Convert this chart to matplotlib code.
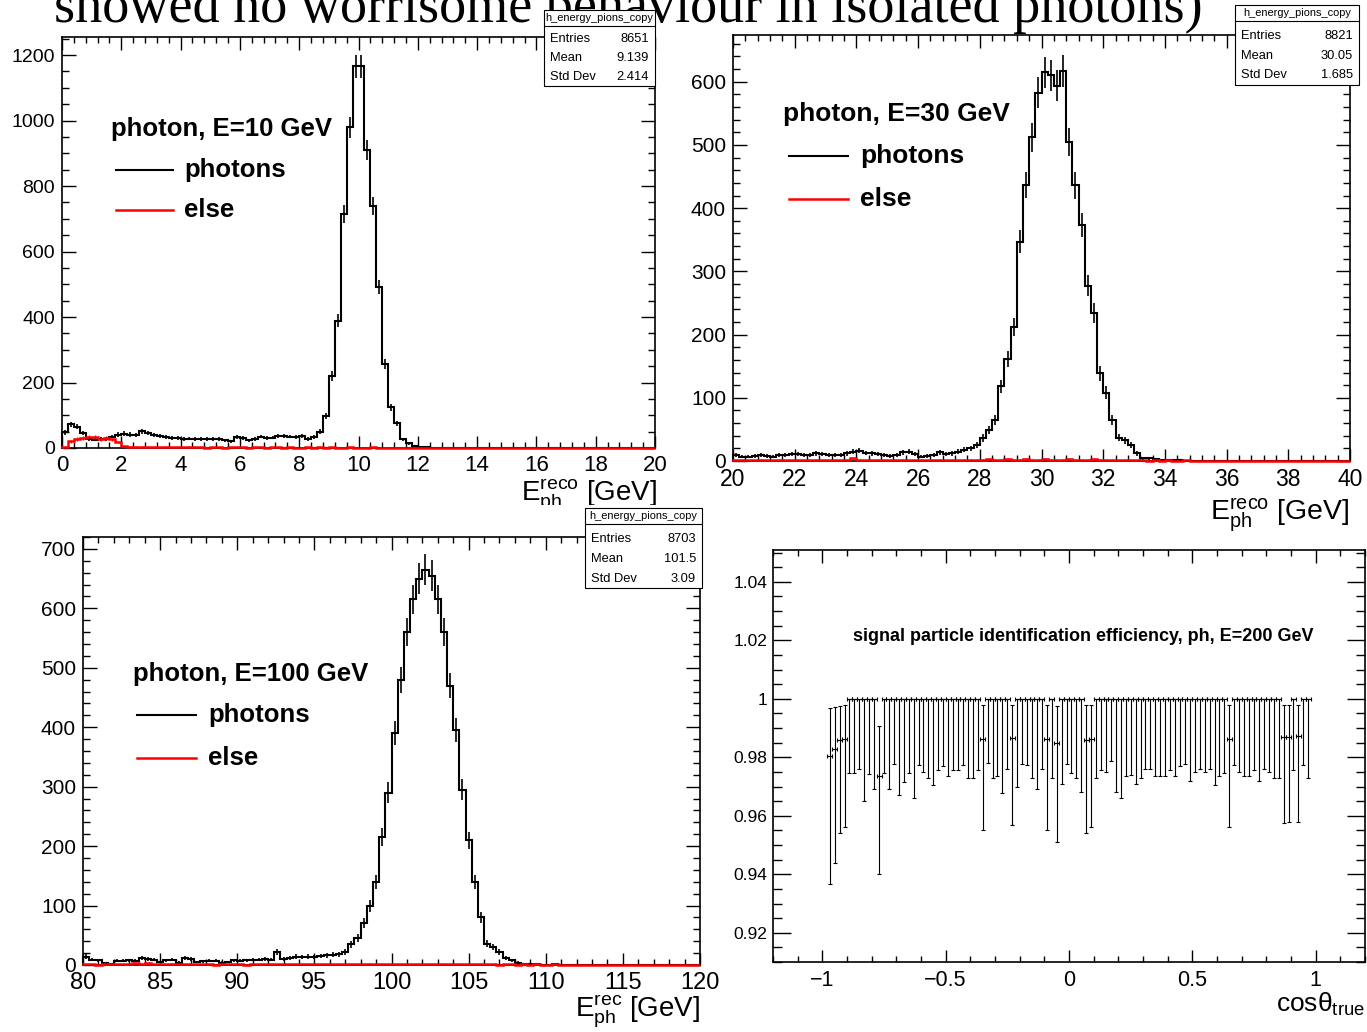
import numpy as np
import matplotlib
matplotlib.use("Agg")
import matplotlib.pyplot as plt
from matplotlib.lines import Line2D
from matplotlib.patches import Rectangle
from matplotlib.ticker import MultipleLocator, FuncFormatter

W, H = 1367, 1032

plt.rcParams['font.family'] = ['Liberation Sans', 'DejaVu Sans']
plt.rcParams['mathtext.fontset'] = 'custom'
plt.rcParams['mathtext.rm'] = 'Liberation Sans'
plt.rcParams['mathtext.it'] = 'Liberation Sans:italic'
plt.rcParams['mathtext.bf'] = 'Liberation Sans:bold'

# ---------------- data ----------------
title = "showed no worrisome behaviour in isolated photons)"
hist_name = "h_energy_pions_copy"
stat_rows = ["Entries", "Mean", "Std Dev"]

# E = 10 GeV, 100 bins in [0, 20]
e10_range = [0, 20, 100]
e10_photons = [48, 72, 65, 45, 27, 25, 28, 27, 35, 41,
               44, 41, 40, 51, 45, 40, 37, 33, 31, 30,
               28, 29, 28, 28, 27, 28, 27, 23, 20, 33,
               30, 23, 28, 35, 30, 32, 37, 37, 35, 33,
               37, 27, 33, 50, 98, 220, 388, 714, 979, 1165,
               1165, 910, 740, 492, 256, 124, 75, 26, 14, 6,
               3, 2, 1, 1, 0, 0, 0, 0, 0, 0,
               0, 0, 0, 0, 0, 0, 0, 0, 0, 0,
               0, 0, 0, 0, 0, 0, 0, 0, 0, 0,
               0, 0, 0, 0, 0, 0, 0, 0, 0, 0]
e10_else = [3, 20, 27, 30, 35, 33, 28, 31, 26, 18,
            5, 3, 3, 4, 3, 2, 2, 3, 2, 2,
            2, 3, 2, 2, 1, 2, 2, 1, 2, 3,
            2, 1, 2, 2, 1, 2, 2, 1, 2, 1,
            1, 2, 1, 2, 1, 2, 1, 1, 2, 1,
            1, 1, 2, 1, 1, 1, 0, 1, 0, 1,
            0, 1, 0, 0, 0, 0, 0, 0, 0, 0,
            0, 0, 0, 0, 0, 0, 0, 0, 0, 0,
            0, 0, 0, 0, 0, 0, 0, 0, 0, 0,
            0, 0, 0, 0, 0, 0, 0, 0, 0, 0]
e10_stats = ["8651", "9.139", "2.414"]

# E = 30 GeV, 100 bins in [20, 40]
e30_range = [20, 40, 100]
e30_photons = [10, 7, 7, 8, 9, 8, 7, 9, 10, 11,
               11, 10, 9, 12, 11, 10, 10, 9, 12, 15,
               16, 13, 12, 11, 9, 8, 9, 14, 15, 11,
               7, 8, 10, 14, 11, 12, 15, 18, 20, 25,
               36, 49, 65, 118, 162, 212, 347, 437, 512, 583,
               615, 610, 594, 617, 505, 436, 373, 277, 234, 139,
               108, 65, 37, 33, 25, 12, 4, 4, 3, 2,
               1, 1, 1, 0, 0, 0, 0, 0, 0, 0,
               0, 0, 0, 0, 0, 0, 0, 0, 0, 0,
               0, 0, 0, 0, 0, 0, 0, 0, 0, 0]
e30_else = [1, 2, 1, 1, 2, 1, 1, 2, 1, 1,
            2, 1, 1, 2, 1, 1, 2, 1, 2, 4,
            2, 1, 1, 2, 1, 1, 1, 2, 1, 1,
            2, 1, 1, 2, 1, 2, 1, 2, 2, 2,
            2, 3, 2, 2, 3, 2, 2, 3, 2, 2,
            3, 2, 2, 2, 3, 2, 2, 2, 3, 2,
            2, 2, 1, 2, 1, 1, 1, 0, 1, 0,
            1, 0, 0, 1, 0, 0, 0, 0, 0, 0,
            0, 0, 0, 0, 0, 0, 0, 0, 0, 0,
            0, 0, 0, 0, 0, 0, 0, 0, 0, 0]
e30_stats = ["8821", "30.05", "1.685"]

# E = 100 GeV, 100 bins in [80, 120]
e100_range = [80, 120, 100]
e100_photons = [14, 9, 8, 3, 2, 7, 7, 8, 7, 11,
                10, 9, 5, 8, 9, 4, 11, 10, 5, 6,
                7, 7, 4, 5, 8, 7, 8, 9, 9, 10,
                9, 22, 10, 12, 14, 13, 14, 13, 15, 16,
                17, 18, 22, 35, 45, 70, 100, 140, 215, 290,
                390, 480, 560, 615, 650, 665, 655, 615, 560, 470,
                395, 295, 210, 140, 80, 36, 30, 22, 12, 8,
                4, 2, 1, 1, 0, 0, 1, 0, 0, 0,
                0, 0, 0, 0, 0, 0, 0, 0, 0, 0,
                0, 0, 0, 0, 0, 0, 0, 0, 0, 0]
e100_else = [1, 1, 0, 1, 1, 1, 1, 1, 3, 2,
             3, 1, 1, 1, 2, 1, 1, 1, 1, 1,
             1, 0, 1, 1, 1, 1, 0, 1, 1, 1,
             1, 1, 1, 1, 1, 1, 1, 1, 1, 1,
             1, 1, 1, 1, 1, 1, 2, 1, 1, 1,
             1, 1, 1, 1, 1, 1, 1, 1, 1, 1,
             1, 1, 1, 1, 1, 1, 1, 0, 1, 1,
             0, 1, 0, 1, 0, 0, 1, 0, 0, 0,
             0, 0, 0, 0, 0, 0, 0, 0, 0, 0,
             0, 0, 0, 0, 0, 0, 0, 0, 0, 0]
e100_stats = ["8703", "101.5", "3.09"]

# efficiency vs cos(theta), 100 bins in [-1, 1], bins 1..98 filled
eff_range = [-1, 1, 100]
eff_val = [0.9805, 0.983, 0.9859, 0.9864, 1, 1, 1, 1, 1, 1,
           0.9737, 1, 1, 1, 1, 1, 1, 1, 1, 1,
           1, 1, 1, 1, 1, 1, 1, 1, 1, 1,
           1, 0.9863, 1, 1, 1, 1, 1, 0.9866, 1, 1,
           1, 1, 1, 1, 0.9863, 1, 0.985, 1, 1, 1,
           1, 1, 0.9859, 0.9864, 1, 1, 1, 1, 1, 1,
           1, 1, 1, 1, 1, 1, 1, 1, 1, 1,
           1, 1, 1, 1, 1, 1, 1, 1, 1, 1,
           1, 0.9863, 1, 1, 1, 1, 1, 1, 1, 1,
           1, 1, 0.987, 0.987, 1, 0.9872, 1, 1]
eff_hi = [0.9967, 0.9972, 0.9976, 0.9978, 1, 1, 1, 1, 1, 1,
          0.9908, 1, 1, 1, 1, 1, 1, 1, 1, 1,
          1, 1, 1, 1, 1, 1, 1, 1, 1, 1,
          1, 0.9978, 1, 1, 1, 1, 1, 0.9978, 1, 1,
          1, 1, 1, 1, 0.9978, 1, 0.9976, 1, 1, 1,
          1, 1, 0.9978, 0.9978, 1, 1, 1, 1, 1, 1,
          1, 1, 1, 1, 1, 1, 1, 1, 1, 1,
          1, 1, 1, 1, 1, 1, 1, 1, 1, 1,
          1, 0.9978, 1, 1, 1, 1, 1, 1, 1, 1,
          1, 1, 0.9978, 0.9978, 1, 0.9978, 1, 1]
eff_lo = [0.9368, 0.944, 0.954, 0.956, 0.9745, 0.9745, 0.976, 0.965, 0.9742, 0.969,
          0.940, 0.9745, 0.969, 0.9777, 0.967, 0.9717, 0.9745, 0.966, 0.9773, 0.975,
          0.9729, 0.9705, 0.9755, 0.977, 0.9736, 0.9755, 0.9755, 0.9773, 0.973, 0.9728,
          0.9755, 0.955, 0.978, 0.9729, 0.9736, 0.9678, 0.976, 0.9568, 0.970, 0.9777,
          0.9773, 0.973, 0.969, 0.976, 0.955, 0.9728, 0.951, 0.971, 0.9777, 0.9745,
          0.973, 0.968, 0.954, 0.956, 0.973, 0.9756, 0.975, 0.9788, 0.968, 0.966,
          0.9736, 0.974, 0.971, 0.9729, 0.976, 0.976, 0.9736, 0.9736, 0.9736, 0.9756,
          0.9736, 0.977, 0.9777, 0.972, 0.975, 0.976, 0.975, 0.976, 0.9705, 0.9736,
          0.9745, 0.956, 0.9773, 0.975, 0.9737, 0.9736, 0.9756, 0.972, 0.976, 0.975,
          0.973, 0.9729, 0.9574, 0.9578, 0.9755, 0.958, 0.9773, 0.973]
eff_title = "signal particle identification efficiency, ph, E=200 GeV"


# ---------------- helpers ----------------
fig = plt.figure(figsize=(W / 100, H / 100), dpi=100)


def fx(x):
    return x / W


def fy(y):
    return 1 - y / H


def add_axes(l, t, r, b):
    return fig.add_axes([fx(l), fy(b), (r - l) / W, (b - t) / H])


def set_ticks(ax, xmaj, xmin, ymaj, ymin, xs, ys, xlen=9, ylen=10, xpad=5, ypad=5):
    ax.xaxis.set_major_locator(MultipleLocator(xmaj))
    ax.xaxis.set_minor_locator(MultipleLocator(xmin))
    ax.yaxis.set_major_locator(MultipleLocator(ymaj))
    ax.yaxis.set_minor_locator(MultipleLocator(ymin))
    ax.tick_params(axis='x', which='major', direction='in', top=True, length=xlen,
                   width=1, labelsize=xs, pad=xpad)
    ax.tick_params(axis='x', which='minor', direction='in', top=True, length=xlen / 2, width=1)
    ax.tick_params(axis='y', which='major', direction='in', right=True, length=ylen,
                   width=1, labelsize=ys, pad=ypad)
    ax.tick_params(axis='y', which='minor', direction='in', right=True, length=ylen / 2, width=1)
    for sp in ax.spines.values():
        sp.set_linewidth(1.2)


def draw_hist(ax, rng, photons, other):
    edges = np.linspace(rng[0], rng[1], rng[2] + 1)
    centers = 0.5 * (edges[1:] + edges[:-1])
    ph = np.array(photons, dtype=float)
    el = np.array(other, dtype=float)
    ax.stairs(ph, edges, color='black', lw=1.5, clip_on=False, zorder=3)
    m = ph > 0
    ax.errorbar(centers[m], ph[m], yerr=np.sqrt(ph[m]), fmt='none', ecolor='black',
                elinewidth=1.2, zorder=3)
    ax.stairs(el, edges, color='#ff0000', lw=1.8, clip_on=False, zorder=4)
    m = el > 0
    ax.errorbar(centers[m], el[m], yerr=np.sqrt(el[m]), fmt='none', ecolor='#ff0000',
                elinewidth=1.0, zorder=4)
    ax.set_xlim(rng[0], rng[1])


def stat_box(l, t, r, b, line_y, rows_y, values, z=10):
    fig.add_artist(Rectangle((fx(l), fy(b)), (r - l) / W, (b - t) / H, transform=fig.transFigure,
                             facecolor='white', edgecolor='black', lw=0.8, zorder=z))
    fig.add_artist(Line2D([fx(l), fx(r)], [fy(line_y), fy(line_y)], transform=fig.transFigure,
                          color='black', lw=0.8, zorder=z + 1))
    fig.text(fx((l + r) / 2), fy((t + line_y) / 2), hist_name, fontsize=7.9,
             ha='center', va='center', zorder=z + 1)
    for name, val, y in zip(stat_rows, values, rows_y):
        fig.text(fx(l + 6), fy(y), name, fontsize=9.3, ha='left', va='center', zorder=z + 1)
        fig.text(fx(r - 6), fy(y), val, fontsize=9.3, ha='right', va='center', zorder=z + 1)


def legend(label, x0, y_title, lx0, lx1, tx, y_ph, y_el, size, z=6):
    fig.text(fx(x0), fy(y_title), label, fontsize=size, fontweight='bold',
             ha='left', va='center', zorder=z)
    fig.add_artist(Line2D([fx(lx0), fx(lx1)], [fy(y_ph), fy(y_ph)], transform=fig.transFigure,
                          color='black', lw=1.5, zorder=z))
    fig.add_artist(Line2D([fx(lx0), fx(lx1)], [fy(y_el), fy(y_el)], transform=fig.transFigure,
                          color='#ff0000', lw=1.8, zorder=z))
    fig.text(fx(tx), fy(y_ph), "photons", fontsize=size, fontweight='bold',
             ha='left', va='center', zorder=z)
    fig.text(fx(tx), fy(y_el), "else", fontsize=size, fontweight='bold',
             ha='left', va='center', zorder=z)


# slide title, cut at the top
fig.text(fx(54), fy(22), title, family='Liberation Serif', fontsize=39,
         ha='left', va='baseline', zorder=1)

# ---- E = 10 GeV ----
ax1 = add_axes(62, 37, 655, 448)
draw_hist(ax1, e10_range, e10_photons, e10_else)
ax1.set_ylim(0, 1255)
set_ticks(ax1, 2, 0.4, 200, 50, 16, 14)
legend("photon, E=10 GeV", 111, 129, 116, 173, 184, 170, 210, 18.5)
stat_box(544, 10, 655, 86, 26, [39, 58, 77], e10_stats)
fig.text(fx(657), fy(501), r"E$_{\rm ph}^{\rm reco}$ [GeV]", fontsize=20,
         ha='right', va='baseline', zorder=3)

# ---- E = 30 GeV ----
ax2 = add_axes(733, 35, 1350, 461)
draw_hist(ax2, e30_range, e30_photons, e30_else)
ax2.set_ylim(0, 674)
set_ticks(ax2, 2, 0.4, 100, 20, 16.5, 15)
legend("photon, E=30 GeV", 783, 114, 789, 848, 860, 156, 199, 19)
stat_box(1235, 5, 1359, 85, 21, [36, 56, 75], e30_stats)
fig.text(fx(1350), fy(520), r"E$_{\rm ph}^{\rm reco}$ [GeV]", fontsize=20.5,
         ha='right', va='baseline', zorder=3)

# white pad of the lower-left plot covers the bottom of the label above
fig.add_artist(Rectangle((0, 0), fx(705), fy(505), transform=fig.transFigure,
                         facecolor='white', edgecolor='none', zorder=4))

# ---- E = 100 GeV ----
ax3 = add_axes(83, 537, 700, 965)
ax3.set_zorder(5)
draw_hist(ax3, e100_range, e100_photons, e100_else)
ax3.set_ylim(0, 720)
set_ticks(ax3, 5, 1, 100, 20, 17, 15)
legend("photon, E=100 GeV", 133, 674, 137, 196, 208, 715, 758, 18.5)
stat_box(585, 508, 702, 588, 524, [539, 559, 579], e100_stats)
fig.text(fx(700), fy(1016), r"E$_{\rm ph}^{\rm rec}$ [GeV]", fontsize=20,
         ha='right', va='baseline', zorder=6)

# ---- efficiency ----
ax4 = add_axes(773, 550, 1365, 962)
edges = np.linspace(eff_range[0], eff_range[1], eff_range[2] + 1)
centers = 0.5 * (edges[1:] + edges[:-1])
cos_pts = centers[1:1 + len(eff_val)]
val = np.array(eff_val)
yerr = [val - np.array(eff_lo), np.array(eff_hi) - val]
half = 0.5 * (edges[1] - edges[0])
ax4.errorbar(cos_pts, val, xerr=half, yerr=yerr, fmt='none', ecolor='black',
             elinewidth=0.8, capsize=1.6, capthick=0.8)
ax4.set_xlim(-1.2, 1.2)
ax4.set_ylim(0.91, 1.0509)
set_ticks(ax4, 0.5, 0.1, 0.02, 0.005, 15.5, 12.5, xlen=9, ylen=13, xpad=6, ypad=4)
fmt = FuncFormatter(lambda v, p: ('%g' % round(v, 6)).replace('-', '\u2212'))
ax4.xaxis.set_major_formatter(fmt)
ax4.yaxis.set_major_formatter(fmt)
ax4.text(0.524, 0.789, eff_title, transform=ax4.transAxes, fontsize=13,
         fontweight='bold', ha='center', va='center')
fig.text(fx(1365), fy(1012), r"cosθ$_{\rm true}$", fontsize=19,
         ha='right', va='baseline', zorder=6)

fig.savefig("out.png", dpi=100)
